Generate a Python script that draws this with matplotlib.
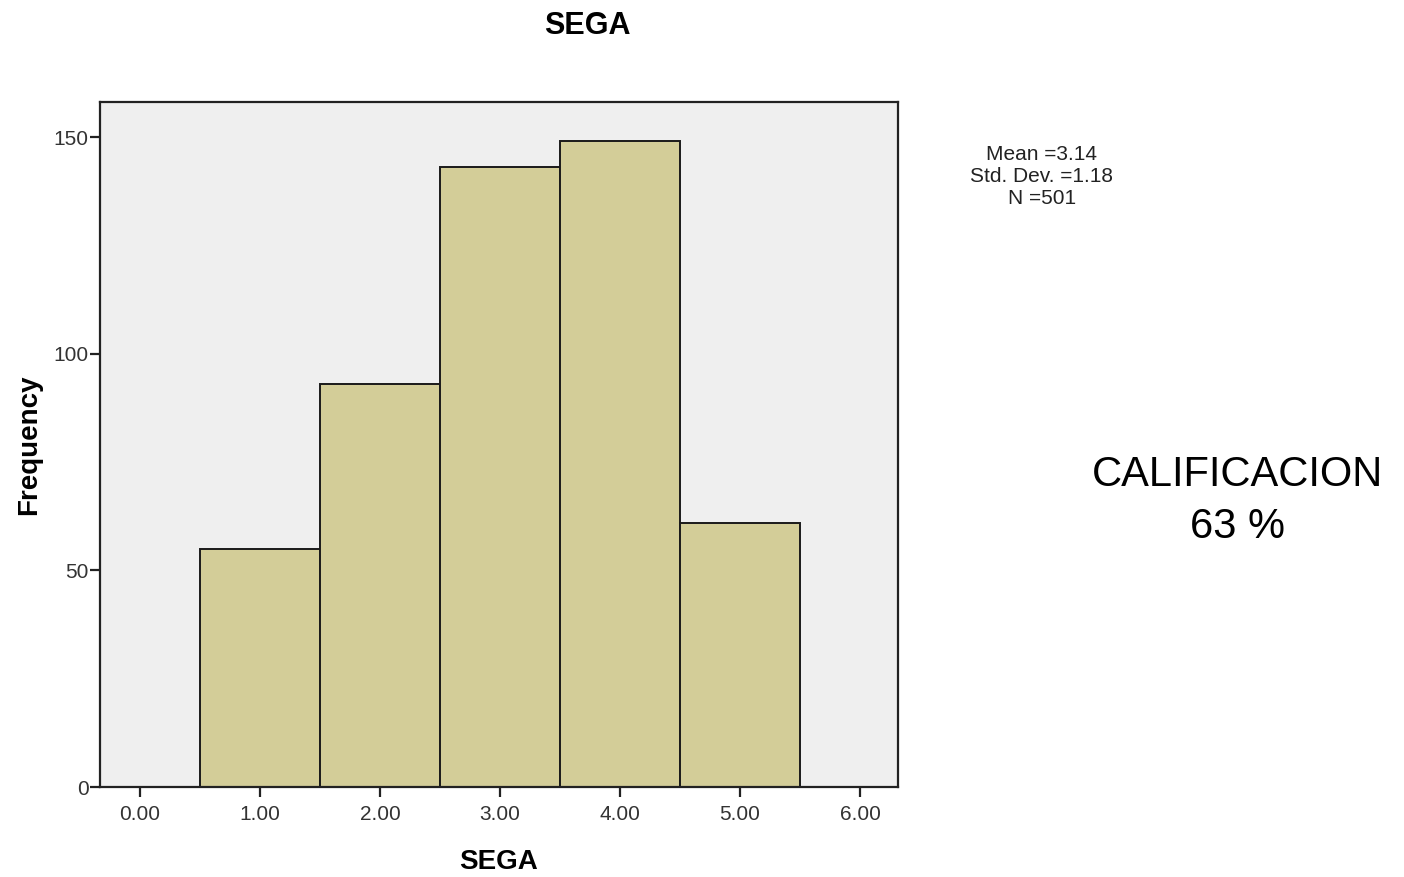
import matplotlib
matplotlib.use("Agg")
import matplotlib.pyplot as plt

plt.rcParams['font.family'] = ['Liberation Sans', 'DejaVu Sans']

# histogram data
scores = [1, 2, 3, 4, 5]
counts = [55, 93, 143, 149, 61]
xticks = [0, 1, 2, 3, 4, 5, 6]
yticks = [0, 50, 100, 150]
stats_lines = ["Mean =3.14", "Std. Dev. =1.18", "N =501"]

fig = plt.figure(figsize=(14.04, 8.77), dpi=100)
ax = fig.add_axes([0.0712, 0.1026, 0.5684, 0.7811])
ax.set_facecolor("#efefef")

ax.bar(scores, counts, width=1.0, color="#d3cd98", edgecolor="#1a1a1a", linewidth=1.4)

ax.set_xlim(-0.333, 6.317)
ax.set_ylim(0, 158.1)
ax.set_xticks(xticks)
ax.set_xticklabels([f"{v:.2f}" for v in xticks])
ax.set_yticks(yticks)

for s in ax.spines.values():
    s.set_color("#222222")
    s.set_linewidth(1.6)

ax.tick_params(axis="both", direction="out", length=7, width=1.6, color="#222222",
               labelsize=15, labelcolor="#333333")
ax.tick_params(axis="y", pad=1)
ax.tick_params(axis="x", pad=6)

ax.set_xlabel("SEGA", fontsize=20, fontweight="bold", labelpad=18)
ax.set_ylabel("Frequency", fontsize=20, fontweight="bold", labelpad=8)

fig.text(587 / 1404, 1 - 26 / 877, "SEGA", fontsize=22, fontweight="bold",
         ha="center", va="center")

fig.text(1042 / 1404, 1 - 176 / 877, "\n".join(stats_lines), fontsize=15,
         ha="center", va="center", linespacing=1.2, color="#222222")

fig.text(1238 / 1404, 1 - 475 / 877, "CALIFICACION", fontsize=30,
         ha="center", va="center")
fig.text(1238 / 1404, 1 - 527 / 877, "63 %", fontsize=30,
         ha="center", va="center")

fig.savefig("out.png", dpi=100)
